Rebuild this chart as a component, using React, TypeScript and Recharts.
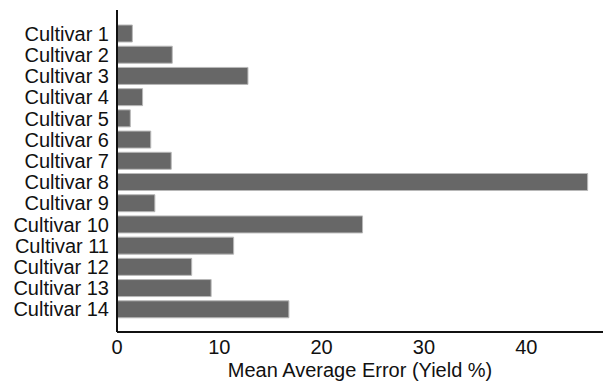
import { Bar, BarChart, XAxis, YAxis } from "recharts";

const FONT = "'Liberation Sans', Arial, sans-serif";
const BAR_FILL = "#676767";
const BAR_EDGE = "#b8b8b8";
const AXIS = "#111";

const cultivars = [
  "Cultivar 1",
  "Cultivar 2",
  "Cultivar 3",
  "Cultivar 4",
  "Cultivar 5",
  "Cultivar 6",
  "Cultivar 7",
  "Cultivar 8",
  "Cultivar 9",
  "Cultivar 10",
  "Cultivar 11",
  "Cultivar 12",
  "Cultivar 13",
  "Cultivar 14",
];
const maeValues = [1.5, 5.4, 12.8, 2.5, 1.3, 3.3, 5.3, 46.0, 3.7, 24.0, 11.4, 7.3, 9.2, 16.8];
const xTicks = [0, 10, 20, 30, 40];

const data = cultivars.map((name, i) => ({ name, mae: maeValues[i] }));

export default function App() {
  return (
    <div style={{ width: 603, height: 381, background: "#fff" }}>
      <style>{`body{margin:0}`}</style>
      <BarChart
        width={603}
        height={381}
        data={data}
        layout="vertical"
        margin={{ top: 10, right: 0, bottom: 0, left: 0 }}
        barSize={17}
      >
        <XAxis
          type="number"
          domain={[0, 47.5]}
          ticks={xTicks}
          height={49}
          tickLine={false}
          axisLine={{ stroke: AXIS, strokeWidth: 2 }}
          tick={{ fill: "#111", fontSize: 20, fontFamily: FONT }}
          label={{
            value: "Mean Average Error (Yield %)",
            position: "insideBottom",
            offset: 4,
            fill: "#111",
            fontSize: 20,
            fontFamily: FONT,
          }}
        />
        <YAxis
          type="category"
          dataKey="name"
          width={117}
          interval={0}
          tickLine={false}
          axisLine={{ stroke: AXIS, strokeWidth: 2 }}
          padding={{ top: 13, bottom: 12 }}
          tick={{ fill: "#111", fontSize: 20, fontFamily: FONT }}
        />
        <Bar
          dataKey="mae"
          fill={BAR_FILL}
          stroke={BAR_EDGE}
          strokeWidth={1}
          isAnimationActive={false}
        />
      </BarChart>
    </div>
  );
}
